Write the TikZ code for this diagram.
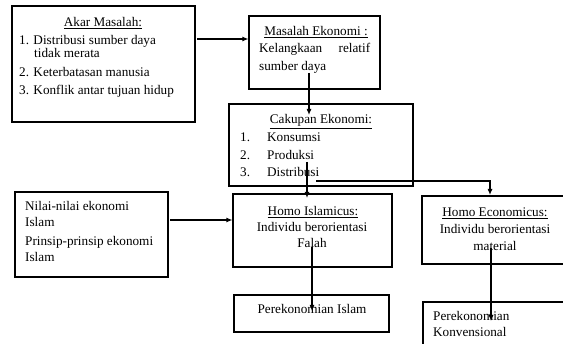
\documentclass[tikz,border=0pt]{standalone}
\usepackage{fontspec}
\setmainfont{Liberation Serif}
\usetikzlibrary{arrows.meta}
\begin{document}
\begin{tikzpicture}[x=1pt,y=-1pt,
  box/.style={draw=black,line width=1.1pt,inner sep=0pt,fill=none},
  txt/.style={inner sep=0pt,font=\fontsize{13.2}{15}\selectfont},
  arr/.style={line width=1.1pt,-{Latex[length=6pt,width=5pt]}}]
\useasboundingbox (0,0) rectangle (563,344);
\clip (0,0) rectangle (563,344);
% boxes
\node[box,minimum width=183pt,minimum height=116pt] (A) at (103.5,64) {};
\node[box,minimum width=131pt,minimum height=73pt] (B) at (314.5,52.5) {};
\node[box,minimum width=184pt,minimum height=82pt] (C) at (321,145) {};
\node[box,minimum width=159pt,minimum height=73pt] (D) at (312.5,230.5) {};
\node[box,minimum width=198pt,minimum height=68pt] (E) at (521,230) {};
\node[box,minimum width=153pt,minimum height=85pt] (F) at (91.5,234.5) {};
\node[box,minimum width=155pt,minimum height=37pt] (G) at (311.5,313.5) {};
\node[box,minimum width=200pt,minimum height=76pt] (H) at (523,340) {};
% texts box A
\node[txt,anchor=base] (a0) at (103,27) {\underline{Akar Masalah:}};
\node[txt,anchor=base west] (a1) at (19,45) {1. Distribusi sumber daya};
\node[txt,anchor=base west] (a2) at (34,58) {tidak merata};
\node[txt,anchor=base west] (a3) at (19,77) {2. Keterbatasan manusia};
\node[txt,anchor=base west] (a4) at (19,95) {3. Konflik antar tujuan hidup};
% box B
\node[txt,anchor=base] (b0) at (316,36) {\underline{Masalah Ekonomi :}};
\node[txt,anchor=base west] (b1) at (259,53) {\makebox[111pt][l]{Kelangkaan\hfill relatif}};
\node[txt,anchor=base west] (b2) at (259,71) {sumber daya};
% box C
\node[txt,anchor=base] (c0) at (321,124) {\underline{Cakupan Ekonomi:}};
\node[txt,anchor=base west] (c1n) at (240,142) {1.};
\node[txt,anchor=base west] (c1) at (267,142) {Konsumsi};
\node[txt,anchor=base west] (c2n) at (240,160) {2.};
\node[txt,anchor=base west] (c2) at (267,160) {Produksi};
\node[txt,anchor=base west] (c3n) at (240,177) {3.};
\node[txt,anchor=base west] (c3) at (267,177) {Distribusi};
% box D
\node[txt,anchor=base] (d0) at (313,216) {\underline{Homo Islamicus:}};
\node[txt,anchor=base] (d1) at (312,232) {Individu berorientasi};
\node[txt,anchor=base] (d2) at (312,248) {Falah};
% box E
\node[txt,anchor=base] (e0) at (495,217) {\underline{Homo Economicus:}};
\node[txt,anchor=base] (e1) at (495,234) {Individu berorientasi};
\node[txt,anchor=base] (e2) at (495,251) {material};
% box F
\node[txt,anchor=base west] (f1) at (25,211) {Nilai-nilai ekonomi};
\node[txt,anchor=base west] (f2) at (25,227) {Islam};
\node[txt,anchor=base west] (f3) at (25,246) {Prinsip-prinsip ekonomi};
\node[txt,anchor=base west] (f4) at (25,262) {Islam};
% box G
\node[txt,anchor=base] (g1) at (312,314) {Perekonomian Islam};
% box H
\node[txt,anchor=base west] (h1) at (433,321) {Perekonomian};
\node[txt,anchor=base west] (h2) at (433,337) {Konvensional};
% connector ends
\coordinate (ab) at (197,39);
\coordinate (bc) at (309,73);
\coordinate (bcE) at (309,115);
\coordinate (cd) at (307,162);
\coordinate (cdE) at (307,198);
\coordinate (ce) at (316,181);
\coordinate (ceE) at (490,195);
\coordinate (fd) at (170,220);
\coordinate (dg) at (312,247);
\coordinate (dgE) at (312,311);
\coordinate (eh) at (491,248);
\coordinate (ehE) at (491,321);
% connectors
\draw[arr] (ab) -- (ab -| B.west);
\draw[arr] (bc) -- (bcE);
\draw[arr] (cd) -- (cdE);
\draw[arr] (ce) -| (ceE);
\draw[arr] (fd) -- (fd -| D.west);
\draw[arr] (dg) -- (dgE);
\draw[arr] (eh) -- (ehE);
\end{tikzpicture}
\end{document}
